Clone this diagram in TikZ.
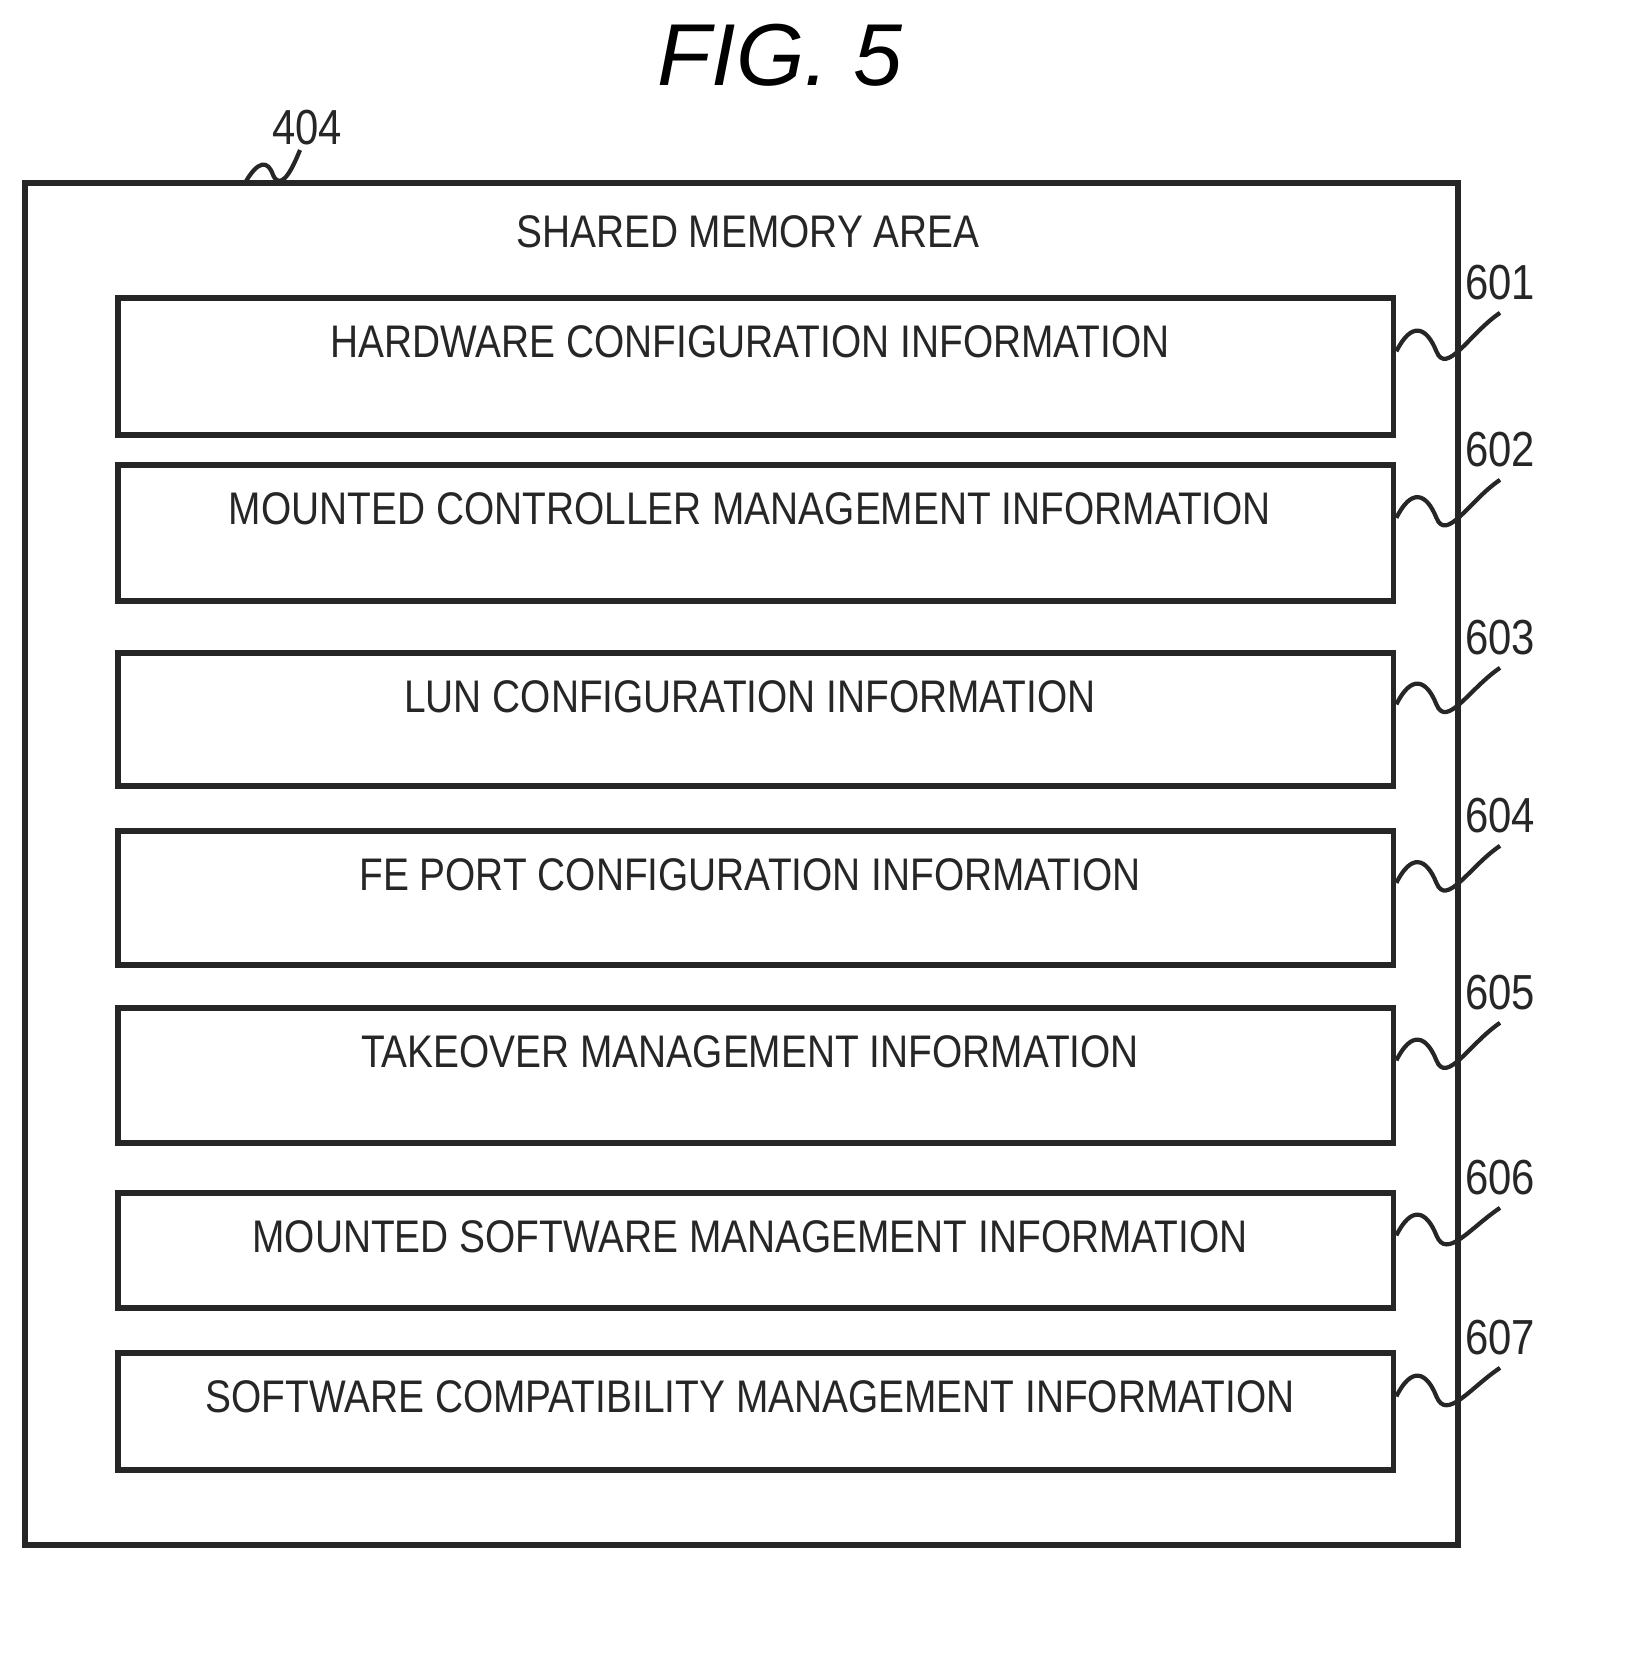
\documentclass[tikz,border=0pt]{standalone}
\usepackage{fontspec}
\setmainfont{Liberation Sans}
\newfontfamily\condfont[FakeStretch=0.85]{Liberation Sans}
\begin{document}
\begin{tikzpicture}[x=0.01cm,y=-0.01cm,
  box/.style={draw=black!85,line width=1.6pt,minimum width=12.75cm,anchor=north west,inner sep=0pt},
  boxtext/.style={anchor=north,font=\condfont\fontsize{13}{14}\selectfont,text=black!85},
  ref/.style={font=\condfont\fontsize{14}{15}\selectfont,text=black!85},
  lead/.style={draw=black!85,line width=1.2pt}]

\useasboundingbox (0,0) rectangle (1649,1661);

%title
\node[font=\fontsize{25}{27}\itshape] (title) at (780,55) {FIG. 5};

%outer shared memory box
\draw[black!85,line width=1.6pt] (25,183) rectangle (1458,1545);
\node[boxtext] (area) at (748,203) {SHARED MEMORY AREA};
\node[ref] (n404) at (307,128) {404};
\draw[lead] (245,183) .. controls (258,160) and (268,160) .. (273,175) .. controls (280,190) and (290,175) .. (300,150);

%inner information boxes
\foreach \y/\h/\n/\t in {
  295/137/601/HARDWARE CONFIGURATION INFORMATION,
  462/136/602/MOUNTED CONTROLLER MANAGEMENT INFORMATION,
  650/133/603/LUN CONFIGURATION INFORMATION,
  828/134/604/FE PORT CONFIGURATION INFORMATION,
  1005/135/605/TAKEOVER MANAGEMENT INFORMATION,
  1190/115/606/MOUNTED SOFTWARE MANAGEMENT INFORMATION,
  1350/117/607/SOFTWARE COMPATIBILITY MANAGEMENT INFORMATION}{
  \node[box,minimum height=\h*0.01cm] (b\n) at (115,\y) {};
  \node[boxtext] (t\n) at (750,\y+18) {\t};
  \node[ref] (n\n) at (1500,\y-12) {\n};
  \draw[lead] (b\n.east) ++(0,-15) coordinate (s\n)
    .. controls +(15,-30) and +(-10,-25) .. +(40,0)
    .. controls +(10,25) and +(-30,20) .. (n\n.south);
}
\end{tikzpicture}
\end{document}
